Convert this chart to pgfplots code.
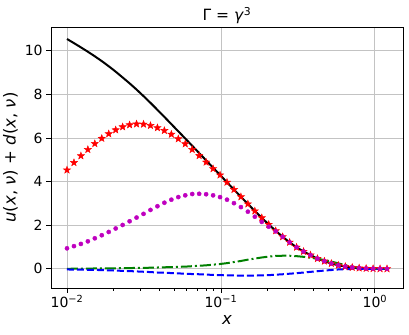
\documentclass[border=0pt]{standalone}
\usepackage{fontspec}
\setmainfont{DejaVu Sans}
\usepackage{pgfplots}
\usepackage{pgfplotstable}
\pgfplotsset{compat=1.18}
\definecolor{mplm}{rgb}{0.75,0,0.75}
\definecolor{mplg}{rgb}{0,0.5,0}
\definecolor{gridgray}{RGB}{195,195,195}
\pgfdeclareplotmark{fstar}{%
  \pgfpathmoveto{\pgfpointpolar{90}{\pgfplotmarksize}}%
  \pgfpathlineto{\pgfpointpolar{126}{0.42\pgfplotmarksize}}%
  \pgfpathlineto{\pgfpointpolar{162}{\pgfplotmarksize}}%
  \pgfpathlineto{\pgfpointpolar{198}{0.42\pgfplotmarksize}}%
  \pgfpathlineto{\pgfpointpolar{234}{\pgfplotmarksize}}%
  \pgfpathlineto{\pgfpointpolar{270}{0.42\pgfplotmarksize}}%
  \pgfpathlineto{\pgfpointpolar{306}{\pgfplotmarksize}}%
  \pgfpathlineto{\pgfpointpolar{342}{0.42\pgfplotmarksize}}%
  \pgfpathlineto{\pgfpointpolar{18}{\pgfplotmarksize}}%
  \pgfpathlineto{\pgfpointpolar{54}{0.42\pgfplotmarksize}}%
  \pgfpathclose
  \pgfusepathqfillstroke}
\pgfplotstableread{
x        black  red   mag   green  blue
0.010000 10.54  4.53  0.94  0.000  -0.030
0.011097 10.35  4.87  1.04  0.005  -0.035
0.012314 10.155 5.18  1.14  0.010  -0.040
0.013664 9.955  5.47  1.26  0.012  -0.045
0.015162 9.745  5.74  1.40  0.015  -0.050
0.016825 9.525  5.98  1.54  0.017  -0.060
0.018670 9.29   6.19  1.69  0.020  -0.070
0.020718 9.04   6.37  1.85  0.025  -0.080
0.022990 8.775  6.51  2.01  0.030  -0.095
0.025511 8.505  6.60  2.18  0.035  -0.105
0.028309 8.22   6.64  2.35  0.040  -0.120
0.031413 7.92   6.63  2.52  0.045  -0.135
0.034858 7.61   6.57  2.70  0.050  -0.150
0.038681 7.29   6.47  2.87  0.060  -0.170
0.042923 6.965  6.34  3.03  0.070  -0.180
0.047630 6.635  6.17  3.17  0.080  -0.195
0.052853 6.305  5.96  3.29  0.090  -0.210
0.058649 5.975  5.73  3.37  0.100  -0.225
0.065081 5.642  5.47  3.43  0.120  -0.240
0.072218 5.307  5.19  3.44  0.140  -0.250
0.080138 4.972  4.89  3.42  0.160  -0.265
0.088926 4.637  4.59  3.37  0.190  -0.280
0.098678 4.302  4.30  3.29  0.220  -0.290
0.10950  3.967  3.967 3.17  0.260  -0.300
0.12151  3.633  3.633 3.01  0.310  -0.305
0.13483  3.301  3.301 2.83  0.360  -0.310
0.14962  2.973  2.973 2.62  0.420  -0.310
0.16603  2.651  2.651 2.39  0.470  -0.310
0.18423  2.337  2.337 2.15  0.520  -0.300
0.20444  2.034  2.034 1.93  0.560  -0.290
0.22686  1.744  1.744 1.72  0.590  -0.270
0.25173  1.47   1.47  1.47  0.600  -0.250
0.27934  1.215  1.215 1.215 0.600  -0.225
0.30997  0.99   0.99  0.99  0.580  -0.200
0.34397  0.795  0.795 0.795 0.550  -0.170
0.38169  0.63   0.63  0.63  0.510  -0.140
0.42354  0.47   0.47  0.47  0.460  -0.110
0.46999  0.35   0.35  0.35  0.400  -0.080
0.52153  0.245  0.245 0.245 0.330  -0.055
0.57873  0.165  0.165 0.165 0.250  -0.030
0.64219  0.105  0.105 0.105 0.170  -0.015
0.71262  0.063  0.063 0.063 0.100  -0.007
0.79077  0.035  0.035 0.035 0.050  -0.003
0.87749  0.018  0.018 0.018 0.020  0.000
0.97372  0.008  0.008 0.008 0.010  0.000
1.08050  0.003  0.003 0.003 0.003  0.000
1.19900  0.000  0.000 0.000 0.000  0.000
}\datatable
\begin{document}
\begin{tikzpicture}
\useasboundingbox (-51bp,-47bp) rectangle (358bp,288bp);
\begin{axis}[
  scale only axis, width=352bp, height=261bp,
  xmode=log, xmin=0.007873, xmax=1.523, ymin=-0.88, ymax=11.09,
  xtick={0.01,0.1,1},
  xticklabels={10\textsuperscript{−2},10\textsuperscript{−1},10\textsuperscript{0}},
  ytick={0,2,4,6,8,10},
  /pgf/number format/assume math mode=true,
  tick align=outside, tick pos=left,
  major tick length=4.9bp, minor tick length=2.8bp,
  tick style={black, line width=0.8bp},
  axis line style={line width=0.8bp},
  grid=major, grid style={gridgray, line width=0.8bp},
  tick label style={font=\fontsize{14bp}{16bp}\selectfont},
  xticklabel style={yshift=1bp},
  label style={font=\fontsize{16.5bp}{18bp}\selectfont},
  xlabel style={yshift=-1bp},
  title style={font=\fontsize{15.5bp}{17bp}\selectfont, yshift=-6bp},
  title={Γ = \textit{γ}\textsuperscript{3}},
  xlabel={\textit{x}},
  ylabel={\textit{u}(\textit{x}, \textit{ν}) + \textit{d}(\textit{x}, \textit{ν})},
  clip=false,
]
\addplot[black, line width=2bp, smooth, tension=0.4] table[x=x, y=black] {\datatable};
\addplot[only marks, red, mark=fstar, mark size=3.8bp, mark options={line width=0.4bp}] table[x=x, y=red] {\datatable};
\addplot[only marks, mplm, mark=*, mark size=2.1bp, mark options={draw=none, fill=mplm}] table[x=x, y=mag] {\datatable};
\addplot[mplg, line width=2bp, dash pattern=on 11bp off 3bp on 2bp off 3bp] table[x=x, y=green] {\datatable};
\addplot[blue, line width=2bp, dash pattern=on 7bp off 3bp] table[x=x, y=blue] {\datatable};
\end{axis}
\end{tikzpicture}
\end{document}
